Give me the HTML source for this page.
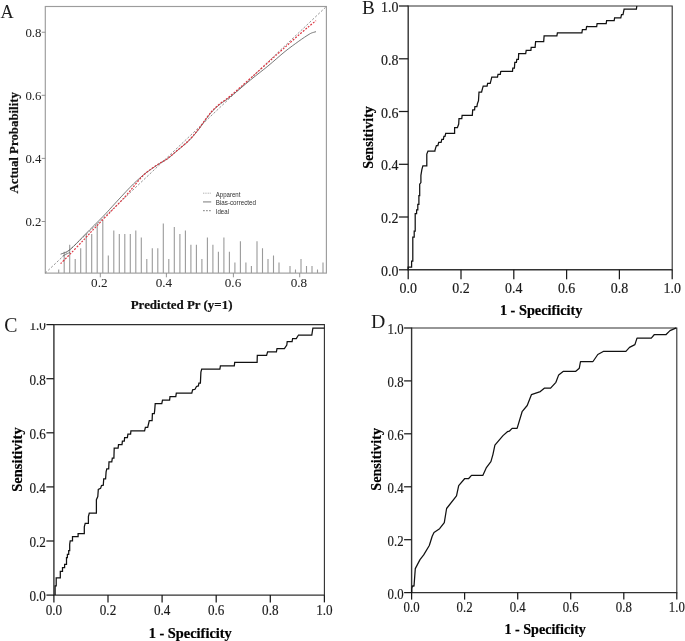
<!DOCTYPE html>
<html lang="en">
<head>
<meta charset="utf-8">
<title>Calibration and ROC curves</title>
<style>
html,body{margin:0;padding:0;background:#fff;}
body{width:685px;height:641px;overflow:hidden;}
svg{display:block;will-change:transform;}
</style>
</head>
<body>
<svg width="685" height="641" viewBox="0 0 685 641" font-family="'Liberation Serif', 'Times New Roman', serif" fill="#1a1a1a">
<rect width="685" height="641" fill="#fff"/>
<g id="pD">
<path d="M411.6,328.0 H676.8 V592.6" fill="none" stroke="#2e2e2e" stroke-width="1.1"/><path d="M411.6,327.5 V592.6 H677.3" fill="none" stroke="#333" stroke-width="1.4"/><path d="M411.6,592.6 v7" stroke="#1a1a1a" stroke-width="1.25"/><path d="M411.6,592.6 h-7.5" stroke="#1a1a1a" stroke-width="1.25"/><text transform="translate(411.6,611.9) scale(0.86,1)" text-anchor="middle" font-size="14.9" stroke="#1a1a1a" stroke-width="0.18">0.0</text><text transform="translate(403.6,598.5) scale(0.86,1)" text-anchor="end" font-size="14.9" stroke="#1a1a1a" stroke-width="0.18">0.0</text><path d="M464.6,592.6 v7" stroke="#1a1a1a" stroke-width="1.25"/><path d="M411.6,539.7 h-7.5" stroke="#1a1a1a" stroke-width="1.25"/><text transform="translate(464.6,611.9) scale(0.86,1)" text-anchor="middle" font-size="14.9" stroke="#1a1a1a" stroke-width="0.18">0.2</text><text transform="translate(403.6,545.6) scale(0.86,1)" text-anchor="end" font-size="14.9" stroke="#1a1a1a" stroke-width="0.18">0.2</text><path d="M517.7,592.6 v7" stroke="#1a1a1a" stroke-width="1.25"/><path d="M411.6,486.8 h-7.5" stroke="#1a1a1a" stroke-width="1.25"/><text transform="translate(517.7,611.9) scale(0.86,1)" text-anchor="middle" font-size="14.9" stroke="#1a1a1a" stroke-width="0.18">0.4</text><text transform="translate(403.6,492.7) scale(0.86,1)" text-anchor="end" font-size="14.9" stroke="#1a1a1a" stroke-width="0.18">0.4</text><path d="M570.7,592.6 v7" stroke="#1a1a1a" stroke-width="1.25"/><path d="M411.6,433.8 h-7.5" stroke="#1a1a1a" stroke-width="1.25"/><text transform="translate(570.7,611.9) scale(0.86,1)" text-anchor="middle" font-size="14.9" stroke="#1a1a1a" stroke-width="0.18">0.6</text><text transform="translate(403.6,439.7) scale(0.86,1)" text-anchor="end" font-size="14.9" stroke="#1a1a1a" stroke-width="0.18">0.6</text><path d="M623.8,592.6 v7" stroke="#1a1a1a" stroke-width="1.25"/><path d="M411.6,380.9 h-7.5" stroke="#1a1a1a" stroke-width="1.25"/><text transform="translate(623.8,611.9) scale(0.86,1)" text-anchor="middle" font-size="14.9" stroke="#1a1a1a" stroke-width="0.18">0.8</text><text transform="translate(403.6,386.8) scale(0.86,1)" text-anchor="end" font-size="14.9" stroke="#1a1a1a" stroke-width="0.18">0.8</text><path d="M676.8,592.6 v7" stroke="#1a1a1a" stroke-width="1.25"/><path d="M411.6,328.0 h-7.5" stroke="#1a1a1a" stroke-width="1.25"/><text transform="translate(676.8,611.9) scale(0.86,1)" text-anchor="middle" font-size="14.9" stroke="#1a1a1a" stroke-width="0.18">1.0</text><text transform="translate(403.6,333.9) scale(0.86,1)" text-anchor="end" font-size="14.9" stroke="#1a1a1a" stroke-width="0.18">1.0</text>
<path d="M411.7,592.7 L411.7,588.6 L412.5,585.8 L414.0,586.2 L415.3,568.6 L420.0,559.6 L423.7,554.9 L429.3,545.5 L432.2,536.2 L434.0,532.4 L439.6,528.7 L444.3,522.7 L446.6,508.5 L456.5,495.9 L458.7,485.6 L464.8,478.5 L468.7,478.5 L471.5,475.4 L482.8,475.4 L486.2,467.9 L490.9,461.6 L492.9,454.6 L494.9,445.2 L503.0,435.6 L507.4,431.7 L509.3,431.2 L512.1,428.4 L517.1,428.4 L522.1,411.7 L527.2,405.5 L531.4,394.7 L540.3,391.6 L544.3,388.2 L550.6,388.2 L555.9,382.3 L558.7,374.9 L563.4,371.3 L575.8,371.3 L579.3,368.2 L580.5,361.5 L593.0,361.5 L597.8,354.5 L603.7,351.3 L625.9,351.3 L629.5,347.4 L634.9,344.6 L637.0,338.1 L651.3,338.1 L654.4,334.5 L666.1,334.5 L670.0,330.6 L676.3,327.9" fill="none" stroke="#111" stroke-width="1.25" stroke-linejoin="round"/>
<text x="371.1" y="328.0" font-size="19.8">D</text>
<text transform="translate(380.8,459.3) rotate(-90)" text-anchor="middle" font-size="14.1" font-weight="bold" fill="#000" stroke="#000" stroke-width="0.2">Sensitivity</text>
<text x="545.2" y="634.4" text-anchor="middle" font-size="14.1" font-weight="bold" fill="#000" stroke="#000" stroke-width="0.2">1 - Specificity</text>
</g>
<g id="pC">
<path d="M53.9,324.6 H324.4 V595.1" fill="none" stroke="#2e2e2e" stroke-width="1.1"/><path d="M53.9,324.1 V595.1 H324.9" fill="none" stroke="#333" stroke-width="1.4"/><path d="M53.9,595.1 v7.3" stroke="#1a1a1a" stroke-width="1.25"/><path d="M53.9,595.1 h-7.5" stroke="#1a1a1a" stroke-width="1.25"/><text transform="translate(53.9,614.9) scale(0.855,1)" text-anchor="middle" font-size="15.4" stroke="#1a1a1a" stroke-width="0.18">0.0</text><text transform="translate(45.9,600.9) scale(0.855,1)" text-anchor="end" font-size="15.4" stroke="#1a1a1a" stroke-width="0.18">0.0</text><path d="M108.0,595.1 v7.3" stroke="#1a1a1a" stroke-width="1.25"/><path d="M53.9,541.0 h-7.5" stroke="#1a1a1a" stroke-width="1.25"/><text transform="translate(108.0,614.9) scale(0.855,1)" text-anchor="middle" font-size="15.4" stroke="#1a1a1a" stroke-width="0.18">0.2</text><text transform="translate(45.9,546.8) scale(0.855,1)" text-anchor="end" font-size="15.4" stroke="#1a1a1a" stroke-width="0.18">0.2</text><path d="M162.1,595.1 v7.3" stroke="#1a1a1a" stroke-width="1.25"/><path d="M53.9,486.9 h-7.5" stroke="#1a1a1a" stroke-width="1.25"/><text transform="translate(162.1,614.9) scale(0.855,1)" text-anchor="middle" font-size="15.4" stroke="#1a1a1a" stroke-width="0.18">0.4</text><text transform="translate(45.9,492.7) scale(0.855,1)" text-anchor="end" font-size="15.4" stroke="#1a1a1a" stroke-width="0.18">0.4</text><path d="M216.2,595.1 v7.3" stroke="#1a1a1a" stroke-width="1.25"/><path d="M53.9,432.8 h-7.5" stroke="#1a1a1a" stroke-width="1.25"/><text transform="translate(216.2,614.9) scale(0.855,1)" text-anchor="middle" font-size="15.4" stroke="#1a1a1a" stroke-width="0.18">0.6</text><text transform="translate(45.9,438.6) scale(0.855,1)" text-anchor="end" font-size="15.4" stroke="#1a1a1a" stroke-width="0.18">0.6</text><path d="M270.3,595.1 v7.3" stroke="#1a1a1a" stroke-width="1.25"/><path d="M53.9,378.7 h-7.5" stroke="#1a1a1a" stroke-width="1.25"/><text transform="translate(270.3,614.9) scale(0.855,1)" text-anchor="middle" font-size="15.4" stroke="#1a1a1a" stroke-width="0.18">0.8</text><text transform="translate(45.9,384.5) scale(0.855,1)" text-anchor="end" font-size="15.4" stroke="#1a1a1a" stroke-width="0.18">0.8</text><path d="M324.4,595.1 v7.3" stroke="#1a1a1a" stroke-width="1.25"/><path d="M53.9,324.6 h-7.5" stroke="#1a1a1a" stroke-width="1.25"/><text transform="translate(324.4,614.9) scale(0.855,1)" text-anchor="middle" font-size="15.4" stroke="#1a1a1a" stroke-width="0.18">1.0</text><text transform="translate(45.9,330.4) scale(0.855,1)" text-anchor="end" font-size="15.4" stroke="#1a1a1a" stroke-width="0.18">1.0</text>
<path d="M55.1,595.0 L55.1,585.8 L56.2,585.8 L56.2,577.9 L60.3,577.9 L60.3,571.4 L62.5,571.4 L62.5,567.6 L64.6,567.6 L64.6,564.3 L66.5,564.3 L66.5,557.7 L67.4,557.7 L67.4,554.3 L68.7,554.3 L68.7,550.6 L69.7,550.6 L69.7,544.2 L70.2,540.9 L72.5,540.9 L72.5,536.7 L78.1,536.7 L78.1,533.6 L84.3,533.6 L84.3,526.8 L85.2,523.4 L88.4,523.4 L88.4,516.7 L89.3,513.1 L96.4,513.1 L96.4,499.7 L97.8,496.5 L98.3,489.4 L100.6,488.4 L101.5,485.6 L103.3,485.2 L103.7,478.9 L105.6,478.9 L106.1,471.9 L106.8,468.8 L108.7,468.8 L109.0,461.8 L111.8,461.8 L112.3,458.2 L113.9,458.2 L114.2,448.2 L118.1,448.2 L118.5,444.6 L122.0,444.6 L122.4,441.2 L124.3,441.2 L124.6,437.6 L127.4,437.6 L127.9,434.1 L130.6,434.1 L130.9,430.9 L144.6,430.9 L145.4,427.4 L147.7,427.4 L148.5,424.0 L149.3,420.7 L152.1,420.7 L152.4,413.7 L154.3,413.7 L154.7,410.3 L155.2,403.6 L161.8,403.6 L162.5,400.1 L169.6,400.1 L170.0,396.6 L175.8,396.6 L176.3,393.1 L191.8,393.2 L192.6,389.8 L195.0,389.3 L196.5,386.5 L198.4,385.9 L198.9,383.0 L200.4,383.0 L200.9,372.1 L201.7,369.0 L219.9,369.0 L220.4,365.9 L234.3,365.9 L234.7,362.4 L257.1,362.4 L257.3,355.4 L266.6,355.4 L267.6,351.9 L276.4,351.9 L277.0,348.6 L284.4,348.6 L286.8,345.1 L287.2,341.6 L292.1,341.6 L292.6,338.5 L296.3,338.5 L298.5,335.0 L311.8,335.0 L312.9,328.0 L324.4,328.0" fill="none" stroke="#111" stroke-width="1.25" stroke-linejoin="miter"/>
<text transform="translate(4.2,332.3) scale(0.96,1)" font-size="20.6">C</text>
<text transform="translate(22.3,459.6) rotate(-90)" text-anchor="middle" font-size="14.5" font-weight="bold" fill="#000" stroke="#000" stroke-width="0.2">Sensitivity</text>
<text x="190.2" y="637.6" text-anchor="middle" font-size="14.4" font-weight="bold" fill="#000" stroke="#000" stroke-width="0.2">1 - Specificity</text>
</g>
<rect x="20" y="312" width="27" height="11.2" fill="#fff"/>
<g id="pB">
<path d="M408.2,6.0 H672.2 V269.8" fill="none" stroke="#2e2e2e" stroke-width="1.1"/><path d="M408.2,5.5 V269.8 H672.7" fill="none" stroke="#333" stroke-width="1.4"/><path d="M408.2,269.8 v9.5" stroke="#1a1a1a" stroke-width="1.25"/><path d="M408.2,269.8 h-9.3" stroke="#1a1a1a" stroke-width="1.25"/><text transform="translate(408.2,293.1) scale(0.895,1)" text-anchor="middle" font-size="15.6" stroke="#1a1a1a" stroke-width="0.18">0.0</text><text transform="translate(398.4,275.9) scale(0.895,1)" text-anchor="end" font-size="15.6" stroke="#1a1a1a" stroke-width="0.18">0.0</text><path d="M461.0,269.8 v9.5" stroke="#1a1a1a" stroke-width="1.25"/><path d="M408.2,217.0 h-9.3" stroke="#1a1a1a" stroke-width="1.25"/><text transform="translate(461.0,293.1) scale(0.895,1)" text-anchor="middle" font-size="15.6" stroke="#1a1a1a" stroke-width="0.18">0.2</text><text transform="translate(398.4,223.1) scale(0.895,1)" text-anchor="end" font-size="15.6" stroke="#1a1a1a" stroke-width="0.18">0.2</text><path d="M513.8,269.8 v9.5" stroke="#1a1a1a" stroke-width="1.25"/><path d="M408.2,164.3 h-9.3" stroke="#1a1a1a" stroke-width="1.25"/><text transform="translate(513.8,293.1) scale(0.895,1)" text-anchor="middle" font-size="15.6" stroke="#1a1a1a" stroke-width="0.18">0.4</text><text transform="translate(398.4,170.4) scale(0.895,1)" text-anchor="end" font-size="15.6" stroke="#1a1a1a" stroke-width="0.18">0.4</text><path d="M566.6,269.8 v9.5" stroke="#1a1a1a" stroke-width="1.25"/><path d="M408.2,111.5 h-9.3" stroke="#1a1a1a" stroke-width="1.25"/><text transform="translate(566.6,293.1) scale(0.895,1)" text-anchor="middle" font-size="15.6" stroke="#1a1a1a" stroke-width="0.18">0.6</text><text transform="translate(398.4,117.6) scale(0.895,1)" text-anchor="end" font-size="15.6" stroke="#1a1a1a" stroke-width="0.18">0.6</text><path d="M619.4,269.8 v9.5" stroke="#1a1a1a" stroke-width="1.25"/><path d="M408.2,58.8 h-9.3" stroke="#1a1a1a" stroke-width="1.25"/><text transform="translate(619.4,293.1) scale(0.895,1)" text-anchor="middle" font-size="15.6" stroke="#1a1a1a" stroke-width="0.18">0.8</text><text transform="translate(398.4,64.9) scale(0.895,1)" text-anchor="end" font-size="15.6" stroke="#1a1a1a" stroke-width="0.18">0.8</text><path d="M672.2,269.8 v9.5" stroke="#1a1a1a" stroke-width="1.25"/><path d="M408.2,6.0 h-9.3" stroke="#1a1a1a" stroke-width="1.25"/><text transform="translate(672.2,293.1) scale(0.895,1)" text-anchor="middle" font-size="15.6" stroke="#1a1a1a" stroke-width="0.18">1.0</text><text transform="translate(398.4,12.1) scale(0.895,1)" text-anchor="end" font-size="15.6" stroke="#1a1a1a" stroke-width="0.18">1.0</text>
<path d="M408.1,269.7 L408.1,267.2 L411.6,267.2 L411.6,261.2 L412.8,261.2 L412.8,237.2 L414.2,237.2 L414.2,231.1 L415.2,231.1 L415.2,213.5 L416.6,213.5 L416.6,209.8 L417.8,209.8 L417.8,204.4 L418.9,204.4 L418.9,195.6 L419.7,195.6 L419.7,184.1 L420.9,182.5 L420.9,175.4 L421.9,169.3 L422.9,165.8 L426.8,165.8 L426.8,154.1 L428.0,151.0 L435.5,151.0 L427.5,151.0 L434.8,151.0 L435.6,148.1 L436.4,145.5 L437.9,145.5 L438.7,142.4 L441.1,142.4 L441.8,139.3 L443.4,139.3 L443.9,136.4 L445.0,136.4 L445.7,133.3 L454.6,133.3 L454.6,127.6 L457.4,127.6 L458.7,124.0 L459.0,118.7 L461.8,118.7 L462.1,115.4 L472.3,115.4 L472.7,109.9 L474.6,109.9 L474.9,106.5 L476.9,106.5 L477.4,103.7 L478.5,100.6 L479.0,92.0 L481.6,92.0 L482.4,88.9 L483.2,86.1 L487.1,86.1 L487.6,83.4 L490.2,83.4 L491.0,80.3 L491.8,77.2 L497.5,77.2 L498.0,74.4 L500.3,74.4 L500.8,71.2 L500.8,71.3 L512.5,71.3 L512.8,68.2 L514.4,68.2 L514.8,62.4 L516.4,62.4 L516.8,59.3 L518.4,59.3 L518.7,53.5 L525.7,53.5 L526.2,50.4 L530.9,50.4 L531.2,47.3 L535.1,47.3 L535.6,41.7 L543.7,41.7 L544.1,35.9 L556.9,35.9 L557.4,32.8 L581.9,32.8 L582.4,29.6 L586.1,29.6 L586.6,26.5 L586.2,26.7 L596.7,26.7 L597.1,23.6 L606.2,23.6 L606.6,20.7 L614.2,20.7 L614.6,17.8 L620.8,17.8 L621.5,14.6 L623.0,14.6 L624.1,9.1 L636.4,9.1 L636.8,6.0" fill="none" stroke="#111" stroke-width="1.25" stroke-linejoin="miter"/>
<text x="362.1" y="14.0" font-size="19.2">B</text>
<text transform="translate(372.6,137.4) rotate(-90)" text-anchor="middle" font-size="14.1" font-weight="bold" fill="#000" stroke="#000" stroke-width="0.2">Sensitivity</text>
<text x="541.2" y="315" text-anchor="middle" font-size="14.3" font-weight="bold" fill="#000" stroke="#000" stroke-width="0.2">1 - Specificity</text>
</g>
<g id="pA">
<rect x="45.3" y="6.5" width="281.1" height="266.6" fill="none" stroke="#9c9c9c" stroke-width="1.15"/>
<path d="M58.7,273.1 V269.6 M64.2,273.1 V251.8 M69.7,273.1 V244.7 M75.2,273.1 V258.9 M80.7,273.1 V248.3 M86.2,273.1 V234.1 M91.7,273.1 V234.1 M97.2,273.1 V223.4 M102.8,273.1 V219.9 M108.3,273.1 V255.4 M113.8,273.1 V230.5 M119.3,273.1 V234.1 M124.8,273.1 V234.1 M130.3,273.1 V234.1 M135.8,273.1 V230.5 M141.3,273.1 V237.6 M146.8,273.1 V258.9 M152.3,273.1 V248.3 M157.8,273.1 V248.3 M163.3,273.1 V223.4 M168.8,273.1 V258.9 M174.3,273.1 V227.0 M179.9,273.1 V234.1 M185.4,273.1 V230.5 M190.9,273.1 V244.7 M196.4,273.1 V244.7 M201.9,273.1 V258.9 M207.4,273.1 V237.6 M212.9,273.1 V244.7 M218.4,273.1 V251.8 M223.9,273.1 V237.6 M229.4,273.1 V251.8 M234.9,273.1 V262.5 M240.4,273.1 V241.2 M245.9,273.1 V262.5 M251.4,273.1 V266.0 M257.0,273.1 V241.2 M262.5,273.1 V248.3 M268.0,273.1 V258.9 M273.5,273.1 V255.4 M279.0,273.1 V262.5 M290.0,273.1 V266.0 M295.5,273.1 V269.6 M301.0,273.1 V258.9 M306.5,273.1 V266.0 M312.0,273.1 V266.0 M317.5,273.1 V269.6 M323.0,273.1 V262.5 " fill="none" stroke="#9a9a9a" stroke-width="1.1"/>
<path d="M45.3,273.1 L326.4,6.5" fill="none" stroke="#7a7a7a" stroke-width="0.8" stroke-dasharray="2.3 1.7"/>
<path d="M60.6,254.2 C62.2,253.4 65.8,253.0 70.0,249.6 C74.2,246.2 80.1,239.5 85.6,234.0 C91.0,228.5 98.2,221.4 102.7,216.8 C107.2,212.2 108.0,211.1 112.5,206.2 C117.0,201.3 125.0,192.5 130.0,187.4 C135.0,182.3 138.7,179.0 142.4,175.8 C146.1,172.6 149.5,170.4 152.4,168.3 C155.3,166.2 157.4,164.9 159.9,163.3 C162.4,161.7 164.6,161.0 167.4,158.9 C170.2,156.8 173.2,154.1 176.8,151.0 C180.5,147.9 185.7,143.9 189.3,140.3 C192.9,136.7 195.8,133.1 198.6,129.5 C201.4,125.9 204.1,121.7 206.4,118.6 C208.8,115.5 210.3,113.3 212.7,110.8 C215.0,108.3 217.6,106.1 220.5,103.8 C223.4,101.5 225.0,101.0 230.0,97.0 C235.0,93.0 244.4,85.0 250.7,79.8 C257.0,74.6 262.2,70.8 267.9,66.1 C273.6,61.4 279.9,55.6 285.0,51.5 C290.1,47.4 294.8,44.1 298.8,41.2 C302.8,38.3 306.7,35.8 309.1,34.3 C311.5,32.8 312.2,32.8 313.4,32.4 C314.5,32.0 315.6,31.8 316.0,31.7" fill="none" stroke="#555" stroke-width="0.8"/>
<path d="M62.5,256.2 L70,252.3" fill="none" stroke="#666" stroke-width="0.7"/>
<path d="M60.6,263.6 C62.2,262.0 65.9,258.4 70.0,254.2 C74.1,250.0 80.6,243.2 85.0,238.5 C89.4,233.8 92.0,230.9 96.5,226.2 C101.0,221.5 107.2,215.2 112.0,210.3 C116.8,205.4 121.2,201.0 125.0,196.8 C128.8,192.6 131.9,188.6 135.0,184.9 C138.1,181.2 140.8,177.7 143.7,174.9 C146.6,172.1 149.7,170.1 152.4,168.1 C155.1,166.1 157.4,164.7 159.9,163.1 C162.4,161.5 164.6,160.8 167.4,158.7 C170.2,156.6 173.2,153.9 176.8,150.8 C180.5,147.7 185.7,143.5 189.3,139.9 C192.9,136.3 195.8,132.6 198.6,129.0 C201.4,125.4 204.1,121.2 206.4,118.1 C208.8,115.0 210.3,112.8 212.7,110.3 C215.0,107.8 217.6,105.6 220.5,103.3 C223.4,101.0 225.0,100.4 230.0,96.2 C235.0,92.0 242.9,85.0 250.7,78.1 C258.4,71.2 268.2,62.3 276.5,54.9 C284.8,47.5 293.9,39.2 300.5,33.5 C307.1,27.8 313.4,22.8 316.0,20.6" fill="none" stroke="#dc3540" stroke-width="1.2" stroke-dasharray="1.9 1.4"/>
<path d="M100.3,273.1 v4.2" stroke="#888" stroke-width="0.9"/>
<text transform="translate(99.3,287.4) scale(0.99,1)" text-anchor="middle" font-size="13.3" fill="#222">0.2</text>
<path d="M166.4,273.1 v4.2" stroke="#888" stroke-width="0.9"/>
<text transform="translate(163.9,287.4) scale(0.99,1)" text-anchor="middle" font-size="13.3" fill="#222">0.4</text>
<path d="M233.4,273.1 v4.2" stroke="#888" stroke-width="0.9"/>
<text transform="translate(233.0,287.4) scale(0.99,1)" text-anchor="middle" font-size="13.3" fill="#222">0.6</text>
<path d="M299.7,273.1 v4.2" stroke="#888" stroke-width="0.9"/>
<text transform="translate(298.9,287.4) scale(0.99,1)" text-anchor="middle" font-size="13.3" fill="#222">0.8</text>
<path d="M45.3,221.5 h-3.6" stroke="#888" stroke-width="0.9"/>
<text transform="translate(41.5,226.45) scale(0.99,1)" text-anchor="end" font-size="13" fill="#222">0.2</text>
<path d="M45.3,158.4 h-3.6" stroke="#888" stroke-width="0.9"/>
<text transform="translate(41.5,163.35) scale(0.99,1)" text-anchor="end" font-size="13" fill="#222">0.4</text>
<path d="M45.3,95.3 h-3.6" stroke="#888" stroke-width="0.9"/>
<text transform="translate(41.5,100.25) scale(0.99,1)" text-anchor="end" font-size="13" fill="#222">0.6</text>
<path d="M45.3,32.25 h-3.6" stroke="#888" stroke-width="0.9"/>
<text transform="translate(41.5,37.20) scale(0.99,1)" text-anchor="end" font-size="13" fill="#222">0.8</text>
<text transform="translate(0.5,17.8) scale(0.935,1)" font-size="19.5" fill="#222">A</text>
<text transform="translate(17.6,142.8) rotate(-90)" text-anchor="middle" font-size="12.85" font-weight="bold" fill="#111" stroke="#111" stroke-width="0.2">Actual Probability</text>
<text x="181.6" y="308.8" text-anchor="middle" font-size="12.95" font-weight="bold" fill="#111" stroke="#111" stroke-width="0.2">Predicted Pr (y=1)</text>
<path d="M203,193.2 h8.2" stroke-dasharray="1 0.7" stroke="#aaa" stroke-width="0.9"/>
<text x="215.8" y="196.6" font-family="'Liberation Sans', Arial, sans-serif" font-size="7.6" fill="#2e2e2e" textLength="24.6" lengthAdjust="spacingAndGlyphs">Apparent</text>
<path d="M203,201.9 h8.2" stroke="#999" stroke-width="1.3"/>
<text x="215.8" y="205.3" font-family="'Liberation Sans', Arial, sans-serif" font-size="7.6" fill="#2e2e2e" textLength="40.2" lengthAdjust="spacingAndGlyphs">Bias-corrected</text>
<path d="M203,210.7 h8.2" stroke-dasharray="1.8 1.2" stroke="#777" stroke-width="0.9"/>
<text x="215.8" y="214.1" font-family="'Liberation Sans', Arial, sans-serif" font-size="7.6" fill="#2e2e2e" textLength="13.2" lengthAdjust="spacingAndGlyphs">Ideal</text>
</g>
</svg>
</body>
</html>
